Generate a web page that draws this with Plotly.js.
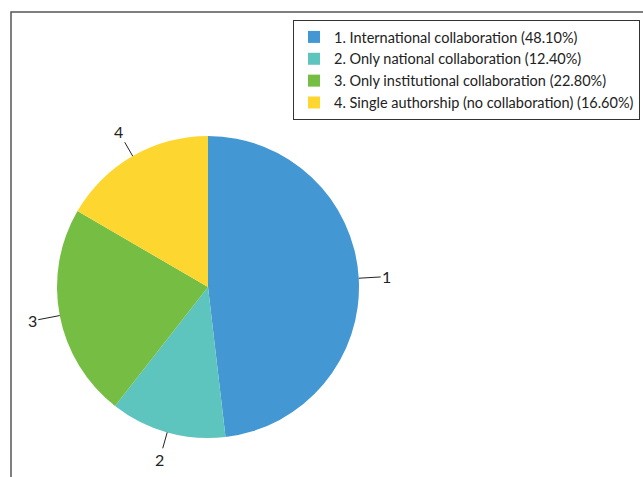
<!DOCTYPE html>
<html><head><meta charset="utf-8">
<script src="https://cdn.plot.ly/plotly-3.0.1.min.js"></script>
<style>html,body{margin:0;padding:0;background:#fff}#chart{width:643px;height:477px}</style>
</head><body><div id="chart"></div>
<script>
const categories = [
  "1. International collaboration (48.10%)",
  "2. Only national collaboration (12.40%)",
  "3. Only institutional collaboration (22.80%)",
  "4. Single authorship (no collaboration) (16.60%)"
];
const shortLabels = ["1", "2", "3", "4"];
const values = [48.1, 12.4, 22.8, 16.6];
const colors = ["#4398D4", "#5EC4BE", "#76BE43", "#FDD72F"];

const W = 643, H = 477;
const cxPx = 208, cyPx = 287, rPx = 151;
const dom = {
  x: [(cxPx - rPx) / W, (cxPx + rPx) / W],
  y: [(H - cyPx - rPx) / H, (H - cyPx + rPx) / H]
};

// leader-line annotations derived from the data (slice mid-angles)
const total = values.reduce((a, b) => a + b, 0);
let cum = 0;
const annotations = values.map((v, i) => {
  const mid = (cum + v / 2) / total * 2 * Math.PI; cum += v;
  const sx = Math.sin(mid), cy = Math.cos(mid);
  const ex = cxPx + rPx * sx, ey = cyPx - rPx * cy;
  const L = 28;
  return {
    x: ex / W, y: 1 - ey / H, xref: 'paper', yref: 'paper',
    text: shortLabels[i], showarrow: true, arrowhead: 0, arrowwidth: 1,
    arrowcolor: '#222', ax: L * sx, ay: -L * cy, standoff: 0,
    font: {family: 'Lato, sans-serif', size: 16, color: '#222'}
  };
});

const data = [{
  type: 'pie', labels: categories, values: values, sort: false,
  direction: 'clockwise', rotation: 0, textinfo: 'none', hoverinfo: 'label',
  marker: {colors: colors, line: {width: 0}},
  domain: dom
}];

const layout = {
  width: W, height: H, margin: {l: 0, r: 0, t: 0, b: 0},
  paper_bgcolor: '#fff', showlegend: true,
  legend: {x: 293 / W, y: 1 - 20 / H, xanchor: 'left', yanchor: 'top',
    bordercolor: '#333', borderwidth: 1, bgcolor: '#fff',
    font: {family: 'Lato, sans-serif', size: 14.5, color: '#222'}, tracegroupgap: 0},
  shapes: [{type: 'rect', xref: 'paper', yref: 'paper', x0: 11 / W, x1: 1.2,
    y0: -0.2, y1: 1 - 12 / H, line: {color: '#555', width: 1.5}, layer: 'below'}],
  annotations: annotations
};
Plotly.newPlot('chart', data, layout, {displayModeBar: false, staticPlot: true});
</script></body></html>
